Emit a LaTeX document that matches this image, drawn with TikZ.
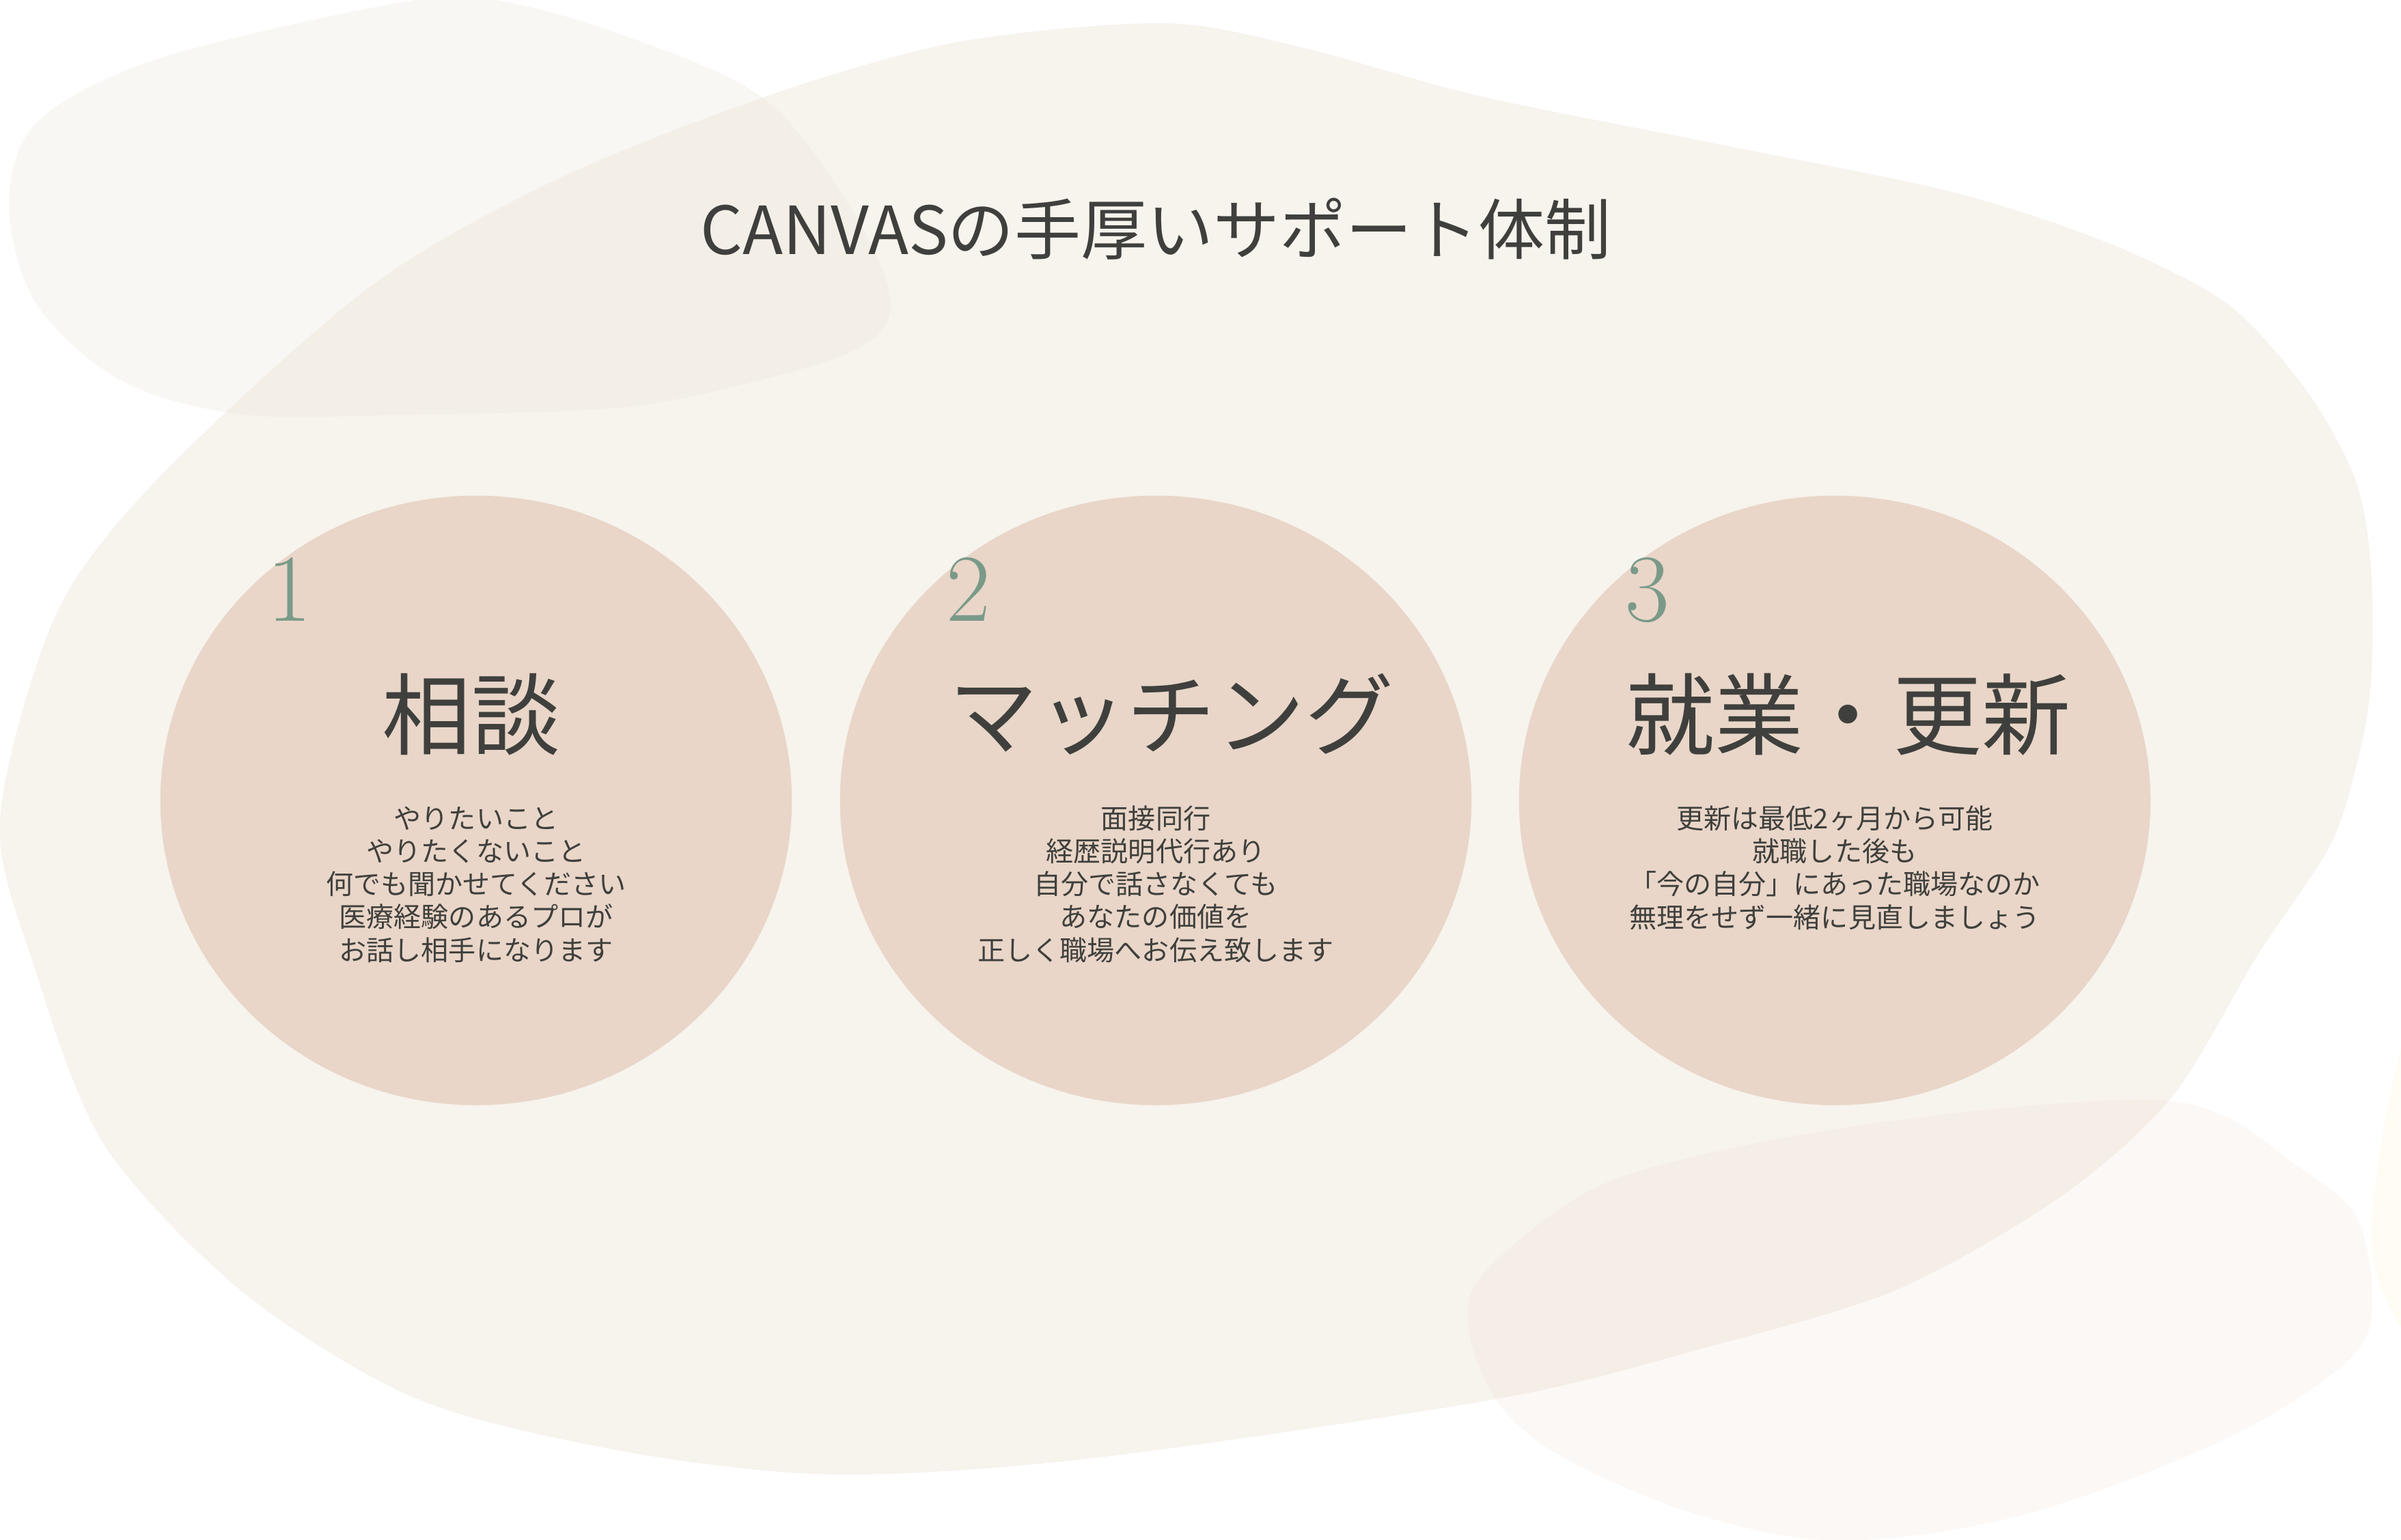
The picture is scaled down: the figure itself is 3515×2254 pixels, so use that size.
\documentclass[tikz,border=0pt]{standalone}
\usepackage{fontspec}
\newfontfamily\jp{Noto Sans CJK JP}
\usetikzlibrary{shapes.geometric}
\definecolor{bigblob}{HTML}{F7F3ED}
\definecolor{tlblob}{RGB}{236,230,218}
\definecolor{brblob}{RGB}{240,214,198}
\definecolor{faintblob}{RGB}{255,246,220}
\definecolor{discfill}{HTML}{E9D6C8}
\definecolor{ink}{HTML}{3F403D}
\definecolor{sage}{HTML}{7A9A89}
\tikzset{
  disc/.style={ellipse, fill=discfill, draw=none, inner sep=0pt,
    minimum width=9.24cm, minimum height=8.92cm},
  titletext/.style={font=\jp\fontsize{27.6}{32}\selectfont, text=ink, inner sep=0pt, anchor=base},
  headtext/.style={font=\jp\fontsize{37}{42}\selectfont, text=ink, inner sep=0pt, anchor=base},
  numtext/.style={font=\fontsize{40}{44}\selectfont, text=sage, inner sep=0pt, anchor=base},
  bodytext/.style={font=\jp\fontsize{11.4}{13.66}\selectfont, text=ink, inner sep=0pt, align=center, anchor=base},
}
\begin{document}
\begin{tikzpicture}[x=0.01cm, y=-0.01cm]
\useasboundingbox (0,0) rectangle (3515,2254);
\fill[white] (0,0) rectangle (3515,2254);
% big blob
\fill[bigblob] plot[smooth cycle, tension=0.5] coordinates {
 (0,1200) (82,900) (232,700) (536,424) (804,268) (1116,143) (1400,62) (1704,34)
 (1908,70) (2163,140) (2510,210) (2857,281) (3089,357) (3262,446) (3378,574)
 (3448,702) (3471,829) (3471,1000) (3450,1120) (3410,1240) (3304,1400) (3179,1607) (3014,1754)
 (2773,1890) (2483,1977) (2193,2048) (1600,2135) (1224,2159) (918,2126) (612,2049)
 (357,1893) (153,1677) (51,1418)};
% top-left blob
\fill[tlblob, opacity=0.3] plot[smooth cycle, tension=0.55] coordinates {
 (13,300) (54,179) (223,89) (536,13) (700,-3) (893,45) (1116,143) (1250,312)
 (1304,446) (1250,513) (1071,567) (893,598) (600,607) (357,607) (179,558) (54,446)};
% bottom-right blob
\fill[brblob, opacity=0.17] plot[smooth cycle, tension=0.55] coordinates {
 (3140,1610) (2870,1629) (2580,1672) (2338,1738) (2174,1863) (2150,1945) (2193,2054)
 (2290,2135) (2483,2217) (2696,2256) (2966,2217) (3256,2108) (3430,1999) (3473,1917)
 (3449,1781) (3353,1700) (3256,1634)};
% faint blob at right edge
\fill[faintblob, opacity=0.3] plot[smooth, tension=0.6] coordinates {
 (3530,1470) (3493,1635) (3472,1790) (3483,1878) (3530,1970)} -- cycle;
% discs
\node[disc] (c1) at (697,1172) {};
\node[disc] (c2) at (1692,1172) {};
\node[disc] (c3) at (2686,1172) {};
% title
\node[titletext] (title) at (1692,372) {CANVASの手厚いサポート体制};
% numbers
\node[numtext] (n1) at (424,909) {1};
\node[numtext] (n2) at (1418,909) {2};
\node[numtext] (n3) at (2412,909) {3};
% headlines
\node[headtext] (h1) at (690,1095) {相談};
\node[headtext] (h2) at (1715,1095) {マッチング};
\node[headtext] (h3) at (2706,1095) {就業・更新};
% bodies (anchor base = baseline of last line)
\node[bodytext] (b1) at (697,1406) {やりたいこと\\やりたくないこと\\何でも聞かせてください\\医療経験のあるプロが\\お話し相手になります};
\node[bodytext] (b2) at (1692,1406) {面接同行\\経歴説明代行あり\\自分で話さなくても\\あなたの価値を\\正しく職場へお伝え致します};
\node[bodytext] (b3) at (2686,1358) {更新は最低2ヶ月から可能\\就職した後も\\「今の自分」にあった職場なのか\\無理をせず一緒に見直しましょう};
\end{tikzpicture}
\end{document}
